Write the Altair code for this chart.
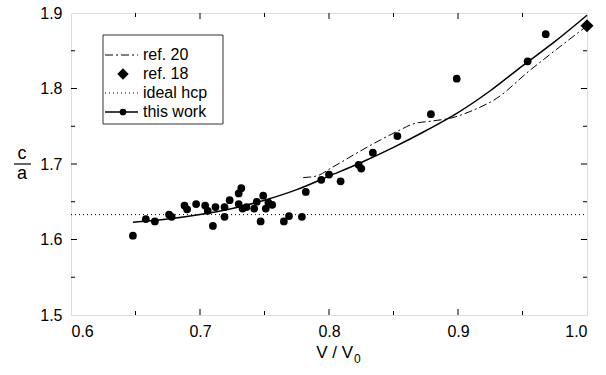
import altair as alt
import pandas as pd

# ---- data ----
this_work_x = [0.648, 0.658, 0.665, 0.676, 0.678, 0.688, 0.690, 0.697, 0.704, 0.706, 0.710, 0.712,
               0.719, 0.719, 0.723, 0.730, 0.732, 0.730, 0.733, 0.736, 0.742, 0.744, 0.747, 0.749,
               0.751, 0.753, 0.756, 0.765, 0.769, 0.779, 0.782, 0.794, 0.800, 0.809, 0.823, 0.825,
               0.834, 0.853, 0.879, 0.899, 0.954, 0.968]
this_work_y = [1.605, 1.627, 1.624, 1.633, 1.630, 1.645, 1.640, 1.647, 1.645, 1.638, 1.618, 1.643,
               1.643, 1.630, 1.652, 1.661, 1.668, 1.647, 1.641, 1.643, 1.641, 1.650, 1.624, 1.658,
               1.641, 1.649, 1.646, 1.624, 1.631, 1.630, 1.663, 1.679, 1.686, 1.677, 1.699, 1.694,
               1.715, 1.737, 1.766, 1.813, 1.836, 1.872]

fit_x = [0.648, 0.675, 0.70, 0.725, 0.75, 0.775, 0.80, 0.825, 0.85, 0.875, 0.90, 0.925, 0.95, 0.975, 1.0]
fit_y = [1.623, 1.627, 1.633, 1.641, 1.652, 1.666, 1.684, 1.702, 1.722, 1.744, 1.768, 1.797, 1.830, 1.862, 1.897]

ref20_x = [0.780, 0.790, 0.803, 0.820, 0.840, 0.855, 0.865, 0.880, 0.895, 0.910, 0.930, 0.955, 0.975, 1.0]
ref20_y = [1.682, 1.684, 1.696, 1.713, 1.732, 1.745, 1.753, 1.757, 1.761, 1.770, 1.787, 1.823, 1.850, 1.883]

ref18_x = [1.0]
ref18_y = [1.883]

ideal_hcp = 1.633

x_labels = [0.6, 0.7, 0.8, 0.9, 1.0]
y_labels = [1.5, 1.6, 1.7, 1.8, 1.9]
x_major = [0.7, 0.8, 0.9]
x_minor = [0.65, 0.75, 0.85, 0.95]
y_major = [1.6, 1.7, 1.8]
y_minor = [1.55, 1.65, 1.75, 1.85]

legend_labels = ["ref. 20", "ref. 18", "ideal hcp", "this work"]

W, H = 516, 302
FONT = "Liberation Sans"

xs = alt.Scale(domain=[0.6, 1.0], nice=False, zero=False)
ys = alt.Scale(domain=[1.5, 1.9], nice=False, zero=False)

x_axis = alt.Axis(values=x_labels, format=".1f", ticks=False, domain=False, grid=False,
                  labelFontSize=16, labelPadding=8, labelFont=FONT, labelColor="black", title=None)
y_axis = alt.Axis(values=y_labels, format=".1f", ticks=False, domain=False, grid=False,
                  labelFontSize=16, labelPadding=9, labelFont=FONT, labelColor="black", title=None)

pts = pd.DataFrame({"x": this_work_x, "y": this_work_y})
fit = pd.DataFrame({"x": fit_x, "y": fit_y})
r20 = pd.DataFrame({"x": ref20_x, "y": ref20_y})
r18 = pd.DataFrame({"x": ref18_x, "y": ref18_y})
hcp = pd.DataFrame({"y": [ideal_hcp]})

hcp_layer = alt.Chart(hcp).mark_rule(color="black", strokeWidth=1, strokeDash=[1, 3]).encode(
    y=alt.Y("y:Q", scale=ys, axis=y_axis), x=alt.value(0), x2=alt.value(W))

r20_layer = alt.Chart(r20).mark_line(color="black", strokeWidth=1, strokeDash=[8, 3, 2, 3],
                                     interpolate="monotone").encode(
    x=alt.X("x:Q", scale=xs, axis=x_axis), y=alt.Y("y:Q", scale=ys, axis=y_axis), order="x:Q")

fit_layer = alt.Chart(fit).mark_line(color="black", strokeWidth=1.5, interpolate="monotone").encode(
    x=alt.X("x:Q", scale=xs, axis=x_axis), y=alt.Y("y:Q", scale=ys, axis=y_axis), order="x:Q")

pts_layer = alt.Chart(pts).mark_circle(color="black", size=60, opacity=1).encode(
    x=alt.X("x:Q", scale=xs, axis=x_axis), y=alt.Y("y:Q", scale=ys, axis=y_axis))

r18_layer = alt.Chart(r18).mark_point(shape="diamond", filled=True, color="black", size=170,
                                      opacity=1).encode(
    x=alt.X("x:Q", scale=xs, axis=x_axis), y=alt.Y("y:Q", scale=ys, axis=y_axis))

# inward ticks on all four sides
tick_layers = []
for vals, ln in [(x_major, 6), (x_minor, 4)]:
    d = pd.DataFrame({"x": vals})
    tick_layers.append(alt.Chart(d).mark_rule(color="black", strokeWidth=1).encode(
        x=alt.X("x:Q", scale=xs, axis=x_axis), y=alt.value(H), y2=alt.value(H - ln)))
    tick_layers.append(alt.Chart(d).mark_rule(color="black", strokeWidth=1).encode(
        x=alt.X("x:Q", scale=xs, axis=x_axis), y=alt.value(0), y2=alt.value(ln)))
for vals, ln in [(y_major, 6), (y_minor, 4)]:
    d = pd.DataFrame({"y": vals})
    tick_layers.append(alt.Chart(d).mark_rule(color="black", strokeWidth=1).encode(
        y=alt.Y("y:Q", scale=ys, axis=y_axis), x=alt.value(0), x2=alt.value(ln)))
    tick_layers.append(alt.Chart(d).mark_rule(color="black", strokeWidth=1).encode(
        y=alt.Y("y:Q", scale=ys, axis=y_axis), x=alt.value(W), x2=alt.value(W - ln)))

# manual legend
one = pd.DataFrame({"k": [0]})
leg_box = alt.Chart(one).mark_rect(fill="white", stroke="#333333", strokeWidth=1).encode(
    x=alt.value(32), x2=alt.value(152), y=alt.value(22), y2=alt.value(111))
row_y = [42, 61, 80, 99]
leg_r20 = alt.Chart(one).mark_rule(color="black", strokeWidth=1, strokeDash=[8, 3, 2, 3]).encode(
    x=alt.value(34), x2=alt.value(67), y=alt.value(row_y[0]))
leg_r18 = alt.Chart(one).mark_point(shape="diamond", filled=True, color="black", size=130,
                                    opacity=1).encode(x=alt.value(52), y=alt.value(row_y[1]))
leg_hcp = alt.Chart(one).mark_rule(color="black", strokeWidth=1, strokeDash=[1, 3]).encode(
    x=alt.value(34), x2=alt.value(67), y=alt.value(row_y[2]))
leg_fit = alt.Chart(one).mark_rule(color="black", strokeWidth=1.5).encode(
    x=alt.value(34), x2=alt.value(67), y=alt.value(row_y[3]))
leg_pt = alt.Chart(one).mark_circle(color="black", size=45, opacity=1).encode(
    x=alt.value(52), y=alt.value(row_y[3]))
leg_texts = []
for lab, yy in zip(legend_labels, row_y):
    leg_texts.append(alt.Chart(one).mark_text(text=lab, align="left", baseline="middle",
                                              font=FONT, fontSize=16, color="black").encode(
        x=alt.value(72), y=alt.value(yy)))

# c / a fraction as y title
ca_c = alt.Chart(one).mark_text(text="c", align="center", baseline="middle", font=FONT,
                                fontSize=18, color="black").encode(x=alt.value(-49), y=alt.value(141))
ca_a = alt.Chart(one).mark_text(text="a", align="center", baseline="middle", font=FONT,
                                fontSize=18, color="black").encode(x=alt.value(-49), y=alt.value(161))
ca_bar = alt.Chart(one).mark_rule(color="black", strokeWidth=1.2).encode(
    x=alt.value(-57), x2=alt.value(-40), y=alt.value(151))

# x title: V / V0 with subscript
xt_main = alt.Chart(one).mark_text(text="V / V", align="right", baseline="middle", font=FONT,
                                   fontSize=17, color="black").encode(x=alt.value(282), y=alt.value(340))
xt_sub = alt.Chart(one).mark_text(text="0", align="left", baseline="middle", font=FONT,
                                  fontSize=12, color="black").encode(x=alt.value(283), y=alt.value(346))

chart = alt.layer(
    hcp_layer, r20_layer, fit_layer, pts_layer, r18_layer, *tick_layers,
    leg_box, leg_r20, leg_r18, leg_hcp, leg_fit, leg_pt, *leg_texts,
    ca_c, ca_a, ca_bar, xt_main, xt_sub,
).properties(
    width=W, height=H,
    autosize=alt.AutoSizeParams(type="none"),
    padding={"left": 71, "top": 13, "right": 19, "bottom": 60},
).configure_view(stroke="black", strokeWidth=2).configure(background="white")

chart.save("out.html", embed_options={"renderer": "svg", "actions": False})
